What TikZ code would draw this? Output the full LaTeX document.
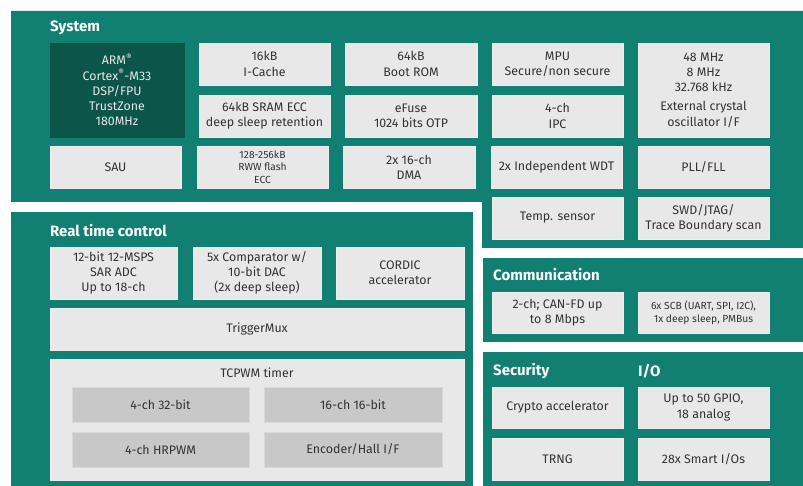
\documentclass[tikz,border=0pt]{standalone}
\usepackage{fontspec}
\setmainfont{Fira Sans}
\definecolor{teal}{HTML}{118072}
\definecolor{darkteal}{HTML}{0B5549}
\definecolor{boxgray}{HTML}{E8E8E8}
\definecolor{innergray}{HTML}{C8C8C8}
\definecolor{txt}{HTML}{333333}
\newcommand\bx[7][box]{\node[#1, minimum width={(#5-#3)*1pt}, minimum height={(#6-#4)*1pt}] (#2) at ({(#3+#5)/2},{(#4+#6)/2}) {#7};}
\tikzset{
  box/.style={fill=boxgray, draw=boxgray!80!white, line width=0.6pt, inner sep=0pt, align=center, text=txt, font=\fontsize{12.4}{15.2}\selectfont},
  darkbox/.style={box, fill=darkteal, draw=darkteal, text=boxgray},
  innerbox/.style={box, fill=innergray, draw=innergray!70!white},
  smallbox/.style={box, font=\fontsize{10.3}{12.7}\selectfont},
  panel/.style={fill=teal},
  head/.style={anchor=west, inner sep=0pt, text=white, font=\fontsize{15}{17}\selectfont\bfseries}
}
\begin{document}
\begin{tikzpicture}[x=1pt,y=-1pt]
\useasboundingbox (0,0) rectangle (803,486);
\fill[white] (0,0) rectangle (803,486);
% panels
\fill[panel] (11,11) -- (803,11) -- (803,248) -- (482,248) -- (482,202) -- (11,202) -- cycle;
\fill[panel] (11,212) rectangle (473,486);
\fill[panel] (483,258) rectangle (803,342);
\fill[panel] (483,352) rectangle (803,486);
% headers
\node[head] (hsys) at (50,28) {System};
\node[head] (hrtc) at (50,231) {Real time control};
\node[head] (hcom) at (493,275) {Communication};
\node[head] (hsec) at (493,371) {Security};
\node[head] (hio) at (638,371) {I/O};
% system
\bx[darkbox]{arm}{50}{43}{184}{137}{ARM\textsuperscript{®}\\Cortex\textsuperscript{®}-M33\\DSP/FPU\\TrustZone\\180MHz}
\bx{icache}{199}{43}{330}{85}{16kB\\I-Cache}
\bx{sram}{199}{95}{330}{137}{64kB SRAM ECC\\deep sleep retention}
\bx{sau}{50}{146}{181}{188}{SAU}
\bx[smallbox]{flash}{197}{146}{328}{188}{128-256kB\\RWW flash\\ECC}
\bx{rom}{345}{43}{477}{85}{64kB\\Boot ROM}
\bx{efuse}{345}{95}{477}{137}{eFuse\\1024 bits OTP}
\bx{dma}{343}{146}{475}{188}{2x 16-ch\\DMA}
\bx{mpu}{492}{43}{623}{85}{MPU\\Secure/non secure}
\bx{ipc}{492}{95}{623}{137}{4-ch\\IPC}
\bx{wdt}{491}{146}{622}{188}{2x Independent WDT}
\bx{temp}{492}{197}{623}{239}{Temp. sensor}
\bx{osc}{638}{43}{769}{137}{48 MHz\\8 MHz\\32.768 kHz\\[4pt]External crystal\\oscillator I/F}
\bx{pll}{638}{146}{769}{188}{PLL/FLL}
\bx{swd}{638}{197}{769}{239}{SWD/JTAG/\\Trace Boundary scan}
% real time control
\bx{adc}{50}{247}{177}{299}{12-bit 12-MSPS\\SAR ADC\\Up to 18-ch}
\bx{comp}{193}{247}{321}{299}{5x Comparator w/\\10-bit DAC\\(2x deep sleep)}
\bx{cordic}{336}{247}{464}{299}{CORDIC\\accelerator}
\bx{tmux}{50}{308}{464}{350}{TriggerMux}
\bx{tcpwm}{50}{359}{464}{480}{}
\node[box, fill=none, draw=none] (tcpwml) at (257,373) {TCPWM timer};
\bx[innerbox]{t32}{72}{387}{249}{422}{4-ch 32-bit}
\bx[innerbox]{t16}{264}{387}{442}{422}{16-ch 16-bit}
\bx[innerbox]{hrpwm}{72}{432}{249}{467}{4-ch HRPWM}
\bx[innerbox]{enc}{264}{432}{442}{467}{Encoder/Hall I/F}
% communication
\bx{can}{492}{292}{623}{333}{2-ch; CAN-FD up\\to 8 Mbps}
\bx[smallbox]{scb}{638}{292}{769}{333}{6x SCB (UART, SPI, I2C),\\1x deep sleep, PMBus}
% security / io
\bx{crypto}{492}{387}{623}{428}{Crypto accelerator}
\bx{gpio}{638}{387}{769}{428}{Up to 50 GPIO,\\18 analog}
\bx{trng}{492}{438}{623}{480}{TRNG}
\bx{smart}{638}{438}{769}{480}{28x Smart I/Os}
\end{tikzpicture}
\end{document}
